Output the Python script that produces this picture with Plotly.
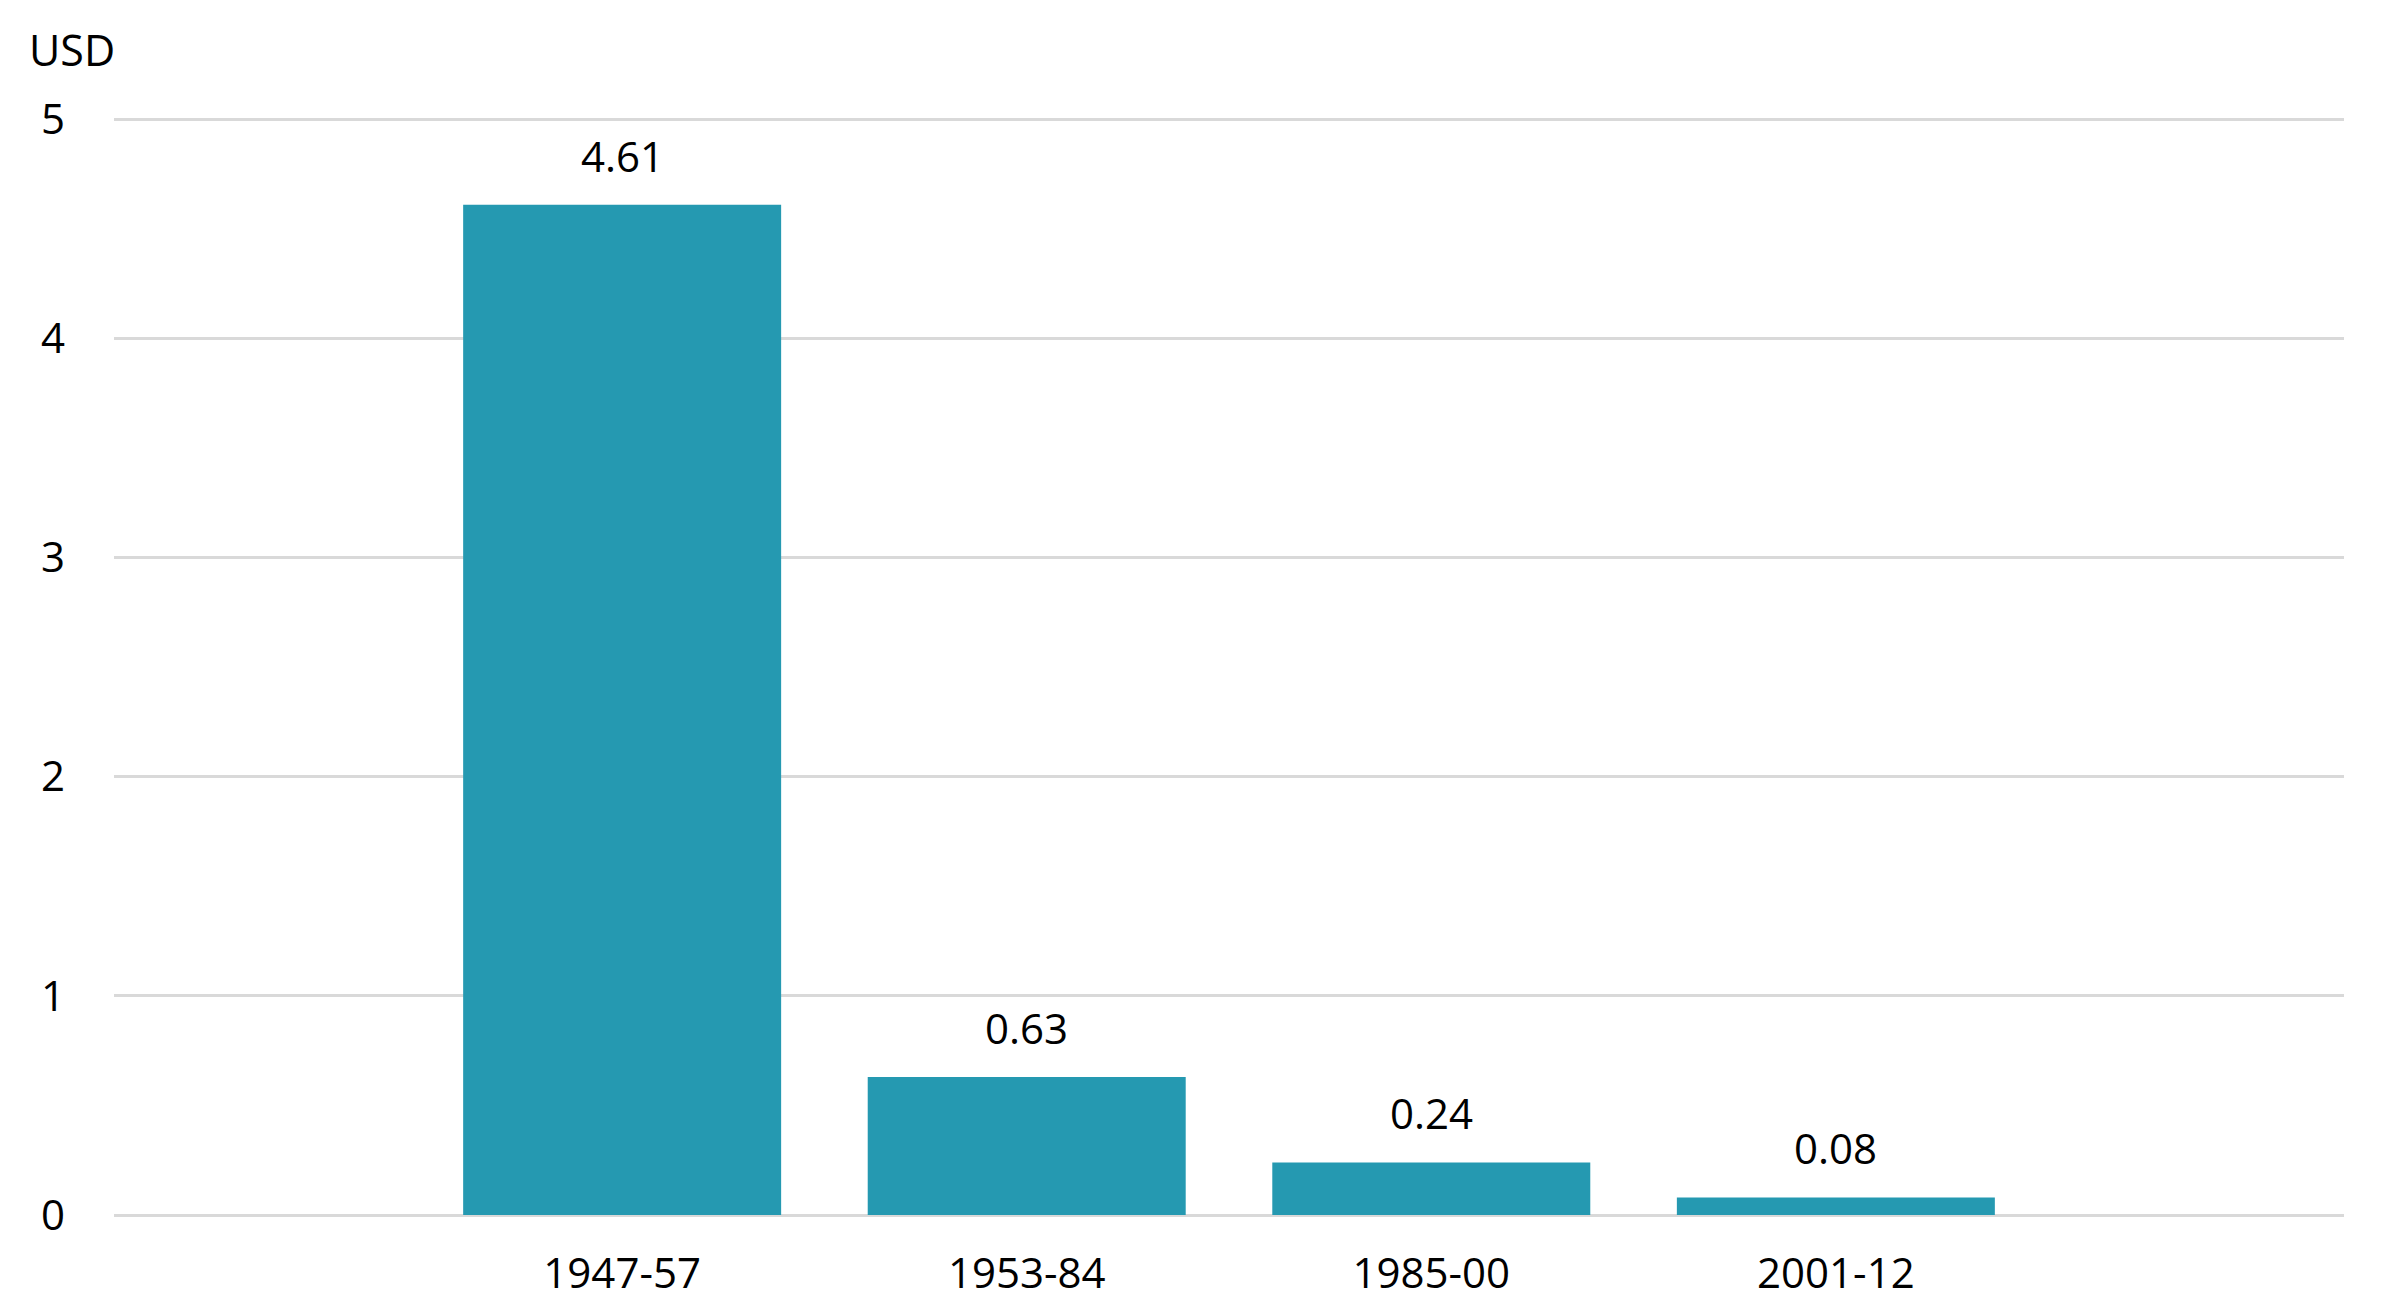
import plotly.graph_objects as go

categories = ["1947-57", "1953-84", "1985-00", "2001-12"]
values = [4.61, 0.63, 0.24, 0.08]
value_labels = ["4.61", "0.63", "0.24", "0.08"]
y_ticks = [0, 1, 2, 3, 4, 5]

FONT = "Open Sans"
BAR = "#2599b1"
GRID = "#d9d9d9"

fig = go.Figure()
fig.add_trace(go.Bar(
    x=categories, y=values, marker=dict(color=BAR, line=dict(width=0)),
    width=0.786, hoverinfo="skip",
))

for c, v, t in zip(categories, values, value_labels):
    fig.add_annotation(x=c, y=v, text=t, showarrow=False, xanchor="center",
                       yanchor="bottom", yshift=19,
                       font=dict(family=FONT, size=42, color="black"))

fig.add_annotation(xref="paper", yref="paper", x=-0.039, y=1 + 68 / 1098,
                   xanchor="left", yanchor="middle", text="USD", showarrow=False,
                   font=dict(family=FONT, size=43, color="black"))

fig.update_layout(
    width=2371, height=1299,
    margin=dict(l=106, r=35, t=109, b=92),
    paper_bgcolor="white", plot_bgcolor="white",
    showlegend=False,
    font=dict(family=FONT, size=42, color="black"),
    xaxis=dict(type="category", range=[-1.256, 4.256], showgrid=False,
               showline=False, zeroline=False, ticks="", ticklabelstandoff=30,
               automargin=False,
               tickfont=dict(family=FONT, size=42, color="black")),
    yaxis=dict(range=[0, 5.01], tickvals=y_ticks, showgrid=True, gridcolor=GRID,
               gridwidth=3, zeroline=True, zerolinecolor=GRID, zerolinewidth=3,
               showline=False, ticks="", ticklabelstandoff=48, automargin=False,
               tickfont=dict(family=FONT, size=42, color="black")),
)

fig.write_html("out.html")
